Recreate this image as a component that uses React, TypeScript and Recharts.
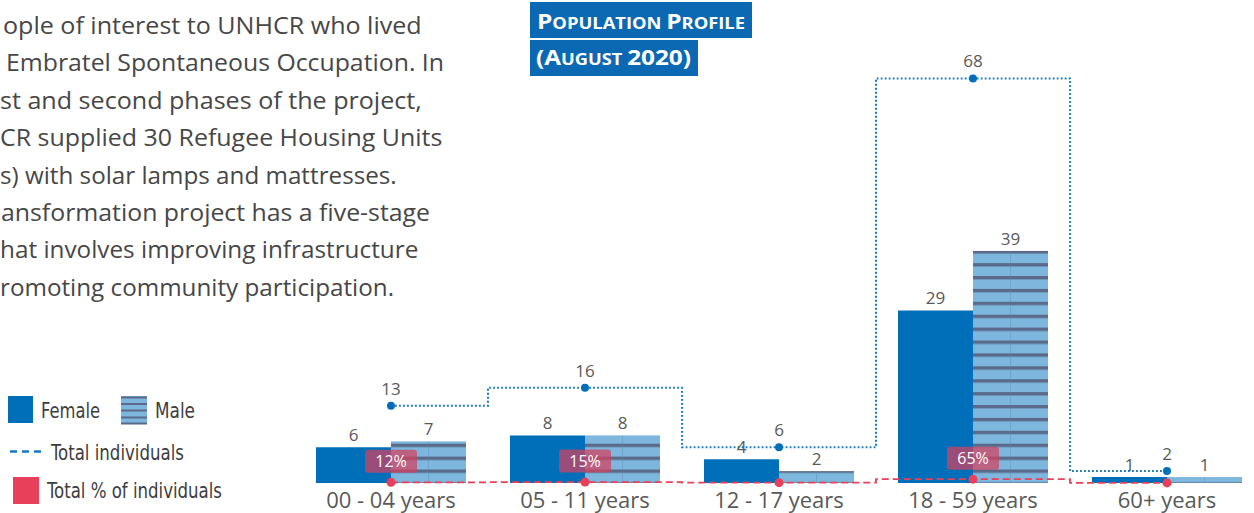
import React from 'react'
import { ComposedChart, Bar, Line, XAxis, YAxis, LabelList } from 'recharts'

const ageGroups = ['00 - 04 years', '05 - 11 years', '12 - 17 years', '18 - 59 years', '60+ years']
const femaleCounts = [6, 8, 4, 29, 1]
const maleCounts = [7, 8, 2, 39, 1]
const totalCounts = [13, 16, 6, 68, 2]
const totalShares = [0.12, 0.15, 0.06, 0.65, 0.02]
const shareLabels = ['12%', '15%', '', '65%', '']

// text cropped at the left edge of the page, kept as it shows
const introLines = [
  'ople of interest to UNHCR who lived',
  'Embratel Spontaneous Occupation. In',
  'st and second phases of the project,',
  'CR supplied 30 Refugee Housing Units',
  's) with solar lamps and mattresses.',
  'ansformation project has a five-stage',
  'hat involves improving infrastructure',
  'romoting community participation.',
]

const FEMALE = '#006fba'
const MALE_LIGHT = '#7db7de'
const MALE_DARK = '#5b6a8a'
const LINE_BLUE = '#1a78c2'
const RED = '#e8405a'
const GREY = '#595959'
const TICK_FONT = '"Open Sans", "Segoe UI", sans-serif'
const LEGEND_FONT = '"Liberation Sans Narrow", "DejaVu Sans Condensed", sans-serif'

const data = ageGroups.map((group, i) => ({
  group,
  female: femaleCounts[i],
  male: maleCounts[i],
  total: totalCounts[i],
  share: totalShares[i],
  shareLabel: shareLabels[i],
}))

/** striped male bar with a faint centre rule */
function MaleBar(props: any) {
  const { x, y, width, height } = props
  if (!height || height <= 0) return null
  return (
    <g>
      <rect x={x} y={y} width={width} height={height} fill="url(#maleStripes)" />
      <line
        x1={x + width / 2}
        x2={x + width / 2}
        y1={y}
        y2={y + height}
        stroke="#5f84ad"
        strokeOpacity={0.35}
        strokeWidth={1}
      />
    </g>
  )
}

/** pink rounded badge above the % dot */
function ShareBadge(props: any) {
  const { x, y, value } = props
  if (!value) return null
  const cy = y - 21
  return (
    <g>
      <rect x={x - 26} y={cy - 11.5} width={52} height={23} rx={3} fill="#d6405e" fillOpacity={0.72} />
      <text
        x={x}
        y={cy}
        textAnchor="middle"
        dominantBaseline="central"
        fill="#ffffff"
        fontSize={16}
        fontFamily={TICK_FONT}
      >
        {value}
      </text>
    </g>
  )
}

export default function App(): React.ReactElement {
  const lineX = [3, 6, 0, 0, 0, 1, 0, 0]
  const lineRight = [421.7, 444, 421.7, 442.3, 396.7, 430, 418.3, 394]
  const big = 22
  const small = 16.5

  return (
    <div
      style={{
        position: 'absolute',
        left: 0,
        top: 0,
        width: 1254,
        height: 513,
        overflow: 'hidden',
        background: '#ffffff',
      }}
    >
      {/* Chart */}
      <div style={{ position: 'absolute', left: 294, top: 0 }}>
        <ComposedChart
          width={970}
          height={513}
          data={data}
          margin={{ top: 66.5, right: 0, bottom: 0, left: 0 }}
          barCategoryGap={22}
          barGap={0}
        >
          <defs>
            <pattern id="maleStripes" patternUnits="userSpaceOnUse" x={0} y={469.5} width={20} height={12.9}>
              <rect x={0} y={0} width={20} height={12.9} fill={MALE_LIGHT} />
              <rect x={0} y={0} width={20} height={3.4} fill={MALE_DARK} />
            </pattern>
          </defs>
          <XAxis
            dataKey="group"
            height={30}
            axisLine={false}
            tickLine={false}
            tickSize={0}
            tickMargin={9}
            interval={0}
            tick={{ fill: GREY, fontSize: 22, fontFamily: TICK_FONT }}
          />
          <YAxis hide domain={[0, 70]} />
          <Bar dataKey="female" fill={FEMALE} isAnimationActive={false}>
            <LabelList dataKey="female" position="top" offset={6} fill={GREY} fontSize={17} fontFamily={TICK_FONT} />
          </Bar>
          <Bar dataKey="male" fill={MALE_LIGHT} shape={MaleBar} isAnimationActive={false}>
            <LabelList dataKey="male" position="top" offset={6} fill={GREY} fontSize={17} fontFamily={TICK_FONT} />
          </Bar>
          <Line
            dataKey="share"
            type="step"
            stroke={RED}
            strokeWidth={1.8}
            strokeDasharray="7 4"
            dot={{ r: 4.5, fill: RED, stroke: 'none' }}
            isAnimationActive={false}
          >
            <LabelList dataKey="shareLabel" content={ShareBadge} />
          </Line>
          <Line
            dataKey="total"
            type="step"
            stroke={LINE_BLUE}
            strokeWidth={2}
            strokeDasharray="1.8 2.2"
            dot={{ r: 4, fill: FEMALE, stroke: 'none' }}
            isAnimationActive={false}
          >
            <LabelList dataKey="total" position="top" offset={11} fill={GREY} fontSize={17} fontFamily={TICK_FONT} />
          </Line>
        </ComposedChart>
      </div>

      {/* Text, title and legend */}
      <svg
        width={1254}
        height={513}
        style={{ position: 'absolute', left: 0, top: 0, pointerEvents: 'none' }}
      >
        {introLines.map((line, i) => (
          <text
            key={i}
            x={lineX[i]}
            y={34 + i * 37.4}
            fill="#474747"
            fontSize={23}
            fontFamily='"Open Sans", sans-serif'
            textLength={lineRight[i] - lineX[i]}
            lengthAdjust="spacingAndGlyphs"
          >
            {line}
          </text>
        ))}

        {/* Title */}
        <rect x={530} y={2} width={222} height={36} fill="#0a69b2" />
        <rect x={530} y={40} width={168} height={36} fill="#0a69b2" />
        <text
          x={537}
          y={29}
          fill="#ffffff"
          fontWeight={700}
          fontFamily='"Open Sans", sans-serif'
          textLength={208}
          lengthAdjust="spacingAndGlyphs"
        >
          <tspan fontSize={big}>P</tspan>
          <tspan fontSize={small}>OPULATION </tspan>
          <tspan fontSize={big}>P</tspan>
          <tspan fontSize={small}>ROFILE</tspan>
        </text>
        <text
          x={536}
          y={65}
          fill="#ffffff"
          fontWeight={700}
          fontFamily='"Open Sans", sans-serif'
          textLength={155}
          lengthAdjust="spacingAndGlyphs"
        >
          <tspan fontSize={big}>(A</tspan>
          <tspan fontSize={small}>UGUST </tspan>
          <tspan fontSize={big}>2020)</tspan>
        </text>

        {/* Legend */}
        <rect x={8} y={396} width={25} height={27} fill={FEMALE} />
        <text x={41} y={418} fill="#3d3d3d" fontSize={22} fontFamily={LEGEND_FONT} textLength={59} lengthAdjust="spacingAndGlyphs">
          Female
        </text>
        <rect x={121} y={396} width={26} height={28} fill={MALE_LIGHT} />
        {[396.5, 403, 409.5, 416.5, 422.5].map((sy) => (
          <rect key={sy} x={121} y={sy} width={26} height={2} fill={MALE_DARK} />
        ))}
        <text x={155} y={418} fill="#3d3d3d" fontSize={22} fontFamily={LEGEND_FONT} textLength={40} lengthAdjust="spacingAndGlyphs">
          Male
        </text>
        <line x1={10} x2={41} y1={451.5} y2={451.5} stroke={LINE_BLUE} strokeWidth={2.5} strokeDasharray="7 5" />
        <text x={51} y={460} fill="#3d3d3d" fontSize={22} fontFamily={LEGEND_FONT} textLength={133} lengthAdjust="spacingAndGlyphs">
          Total individuals
        </text>
        <rect x={13} y={477} width={26} height={27} fill={RED} />
        <text x={47} y={498} fill="#3d3d3d" fontSize={22} fontFamily={LEGEND_FONT} textLength={175} lengthAdjust="spacingAndGlyphs">
          Total % of individuals
        </text>
      </svg>
    </div>
  )
}
